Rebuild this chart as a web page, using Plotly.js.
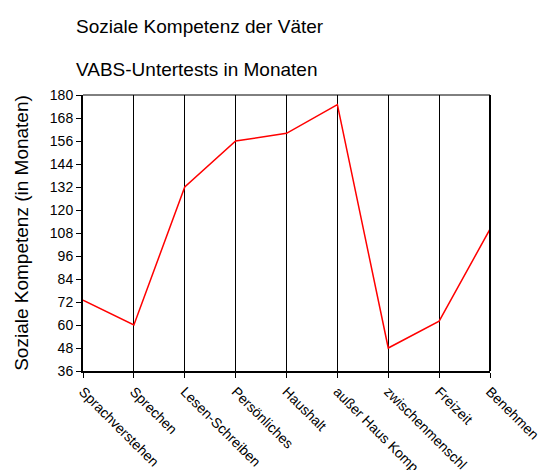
<!DOCTYPE html>
<html>
<head>
<meta charset="utf-8">
<script src="https://cdn.plot.ly/plotly-3.0.1.min.js"></script>
<style>html,body{margin:0;padding:0;background:#fff;}#chart{width:548px;height:470px;}</style>
</head>
<body>
<div id="chart"></div>
<script>
var categories = ["Sprachverstehen", "Sprechen", "Lesen-Schreiben", "Persönliches", "Haushalt", "außer Haus Komp", "zwischenmenschl", "Freizeit", "Benehmen"];
var values = [73, 60, 132, 156, 160, 175, 48, 62, 110];
var yTicks = [36, 48, 60, 72, 84, 96, 108, 120, 132, 144, 156, 168, 180];
var titleLine1 = "Soziale Kompetenz der Väter";
var titleLine2 = "VABS-Untertests in Monaten";
var yTitle = "Soziale Kompetenz (in Monaten)";

var idx = categories.map(function (c, i) { return i; });
var font = "Liberation Sans, Arial, sans-serif";

var trace = {
  x: idx,
  y: values,
  type: "scatter",
  mode: "lines",
  line: {color: "#ff0000", width: 1.5},
  hoverinfo: "skip"
};

var layout = {
  width: 548,
  height: 470,
  margin: {l: 83, r: 58, t: 95, b: 99, pad: 0},
  paper_bgcolor: "#ffffff",
  plot_bgcolor: "#ffffff",
  showlegend: false,
  font: {family: font, color: "#000000", size: 14},
  xaxis: {
    range: [0, categories.length - 1],
    tickmode: "array",
    tickvals: idx,
    ticktext: categories,
    tickangle: 45,
    ticks: "outside",
    ticklen: 5,
    tickwidth: 1,
    tickcolor: "#000",
    showline: true,
    linecolor: "#000",
    linewidth: 2,
    showgrid: true,
    gridcolor: "#000",
    gridwidth: 1,
    zeroline: false,
    tickfont: {family: font, size: 14, color: "#000"}
  },
  yaxis: {
    range: [36, 180],
    tickmode: "array",
    tickvals: yTicks,
    ticktext: yTicks.map(String),
    ticks: "outside",
    ticklen: 5,
    tickwidth: 1,
    tickcolor: "#000",
    showline: true,
    linecolor: "#000",
    linewidth: 2,
    showgrid: false,
    zeroline: false,
    tickfont: {family: font, size: 14, color: "#000"},
    title: {text: yTitle, font: {family: font, size: 19, color: "#000"}, standoff: 16}
  },
  shapes: [
    {type: "line", xref: "paper", yref: "paper", x0: 0, x1: 1, y0: 1, y1: 1, line: {color: "#000", width: 1}},
    {type: "line", xref: "paper", yref: "paper", x0: 1, x1: 1, y0: 0, y1: 1, line: {color: "#000", width: 2}}
  ],
  annotations: [
    {text: titleLine1, xref: "paper", yref: "paper", x: -0.022, y: 1.250, xanchor: "left", yanchor: "middle", showarrow: false, font: {family: font, size: 19, color: "#000"}},
    {text: titleLine2, xref: "paper", yref: "paper", x: -0.022, y: 1.091, xanchor: "left", yanchor: "middle", showarrow: false, font: {family: font, size: 19, color: "#000"}}
  ]
};

Plotly.newPlot("chart", [trace], layout, {staticPlot: true, displayModeBar: false});
</script>
</body>
</html>
